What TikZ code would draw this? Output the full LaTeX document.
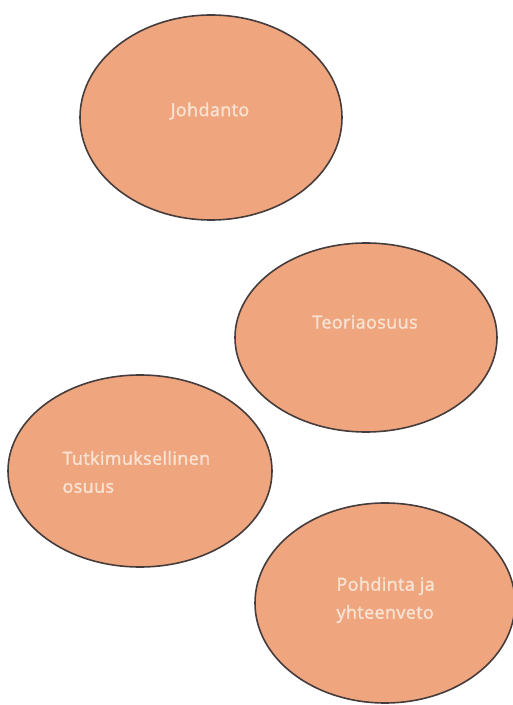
\documentclass[tikz,border=0pt]{standalone}
\usepackage{fontspec}
\setmainfont{Open Sans}[FakeBold=1.8,LetterSpace=2]
\usetikzlibrary{shapes.geometric}
\definecolor{fillc}{HTML}{EFA67F}
\definecolor{linec}{HTML}{463C3C}
\definecolor{textc}{HTML}{F8E2D2}
\tikzset{
  oval/.style={ellipse, draw=linec, line width=1.6pt, fill=fillc, inner sep=0pt},
  lbl/.style={text=textc, font=\fontsize{18}{28}\selectfont, align=left}
}
\begin{document}
\begin{tikzpicture}[x=1pt,y=1pt]
\useasboundingbox (0,0) rectangle (513,705);
\node[oval, minimum width=262pt, minimum height=205pt] (j) at (211,587.5) {};
\node[oval, minimum width=262pt, minimum height=189pt] (t) at (366,367.5) {};
\node[oval, minimum width=264pt, minimum height=192pt] (k) at (140,234) {};
\node[oval, minimum width=260pt, minimum height=200pt] (p) at (385,102) {};
\node[lbl] (jt) at (210,594) {Johdanto};
\node[lbl] (tt) at (365,383) {Teoriaosuus};
\node[lbl, anchor=west] (kt) at (59,233) {Tutkimuksellinen\\osuus};
\node[lbl, anchor=west] (pt) at (333,105) {Pohdinta ja\\yhteenveto};
\end{tikzpicture}
\end{document}
